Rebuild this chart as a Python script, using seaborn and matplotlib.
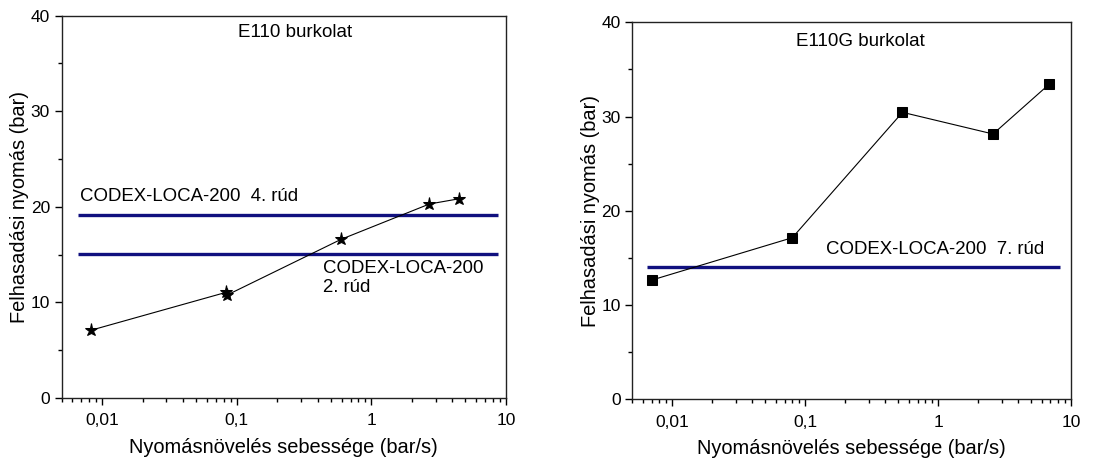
import matplotlib
matplotlib.use('Agg')
import matplotlib.pyplot as plt
import matplotlib.ticker as mticker
import seaborn as sns
import pandas as pd

# E110 burkolat (csillag)
e110_rate = [0.0083, 0.083, 0.084, 0.595, 2.70, 4.5]
e110_press = [7.1, 11.05, 10.75, 16.6, 20.3, 20.85]
e110_codex = [19.15, 15.05]
e110_codex_labels = ['CODEX-LOCA-200  4. rúd', 'CODEX-LOCA-200\n2. rúd']

# E110G burkolat (négyzet)
e110g_rate = [0.00703, 0.080, 0.539, 2.59, 6.87]
e110g_press = [12.66, 17.15, 30.45, 28.15, 33.45]
e110g_codex = [14.05]
e110g_codex_labels = ['CODEX-LOCA-200  7. rúd']

titles = ['E110 burkolat', 'E110G burkolat']
xlabel = 'Nyomásnövelés sebessége (bar/s)'
ylabel = 'Felhasadási nyomás (bar)'

sns.set_style('white')
plt.rcParams['font.family'] = ['Liberation Sans', 'DejaVu Sans']
plt.rcParams['text.color'] = 'black'
plt.rcParams['axes.labelcolor'] = 'black'
plt.rcParams['xtick.color'] = 'black'
plt.rcParams['ytick.color'] = 'black'

fig = plt.figure(figsize=(11.18, 4.59), dpi=100)
ax1 = fig.add_axes([0.0552, 0.1329, 0.3974, 0.8329])
ax2 = fig.add_axes([0.5656, 0.1300, 0.3924, 0.8214])

navy = '#10107f'


def comma_fmt(v, pos):
    s = '%g' % v
    return s.replace('.', ',')


def style_axes(ax):
    ax.set_xscale('log')
    ax.set_xlim(0.005, 10)
    ax.set_ylim(0, 40)
    ax.xaxis.set_major_locator(mticker.FixedLocator([0.01, 0.1, 1, 10]))
    ax.xaxis.set_major_formatter(mticker.FuncFormatter(comma_fmt))
    ax.xaxis.set_minor_locator(mticker.LogLocator(base=10, subs=range(2, 10), numticks=20))
    ax.xaxis.set_minor_formatter(mticker.NullFormatter())
    ax.yaxis.set_major_locator(mticker.MultipleLocator(10))
    ax.yaxis.set_minor_locator(mticker.MultipleLocator(5))
    ax.tick_params(axis='both', which='major', direction='out', length=5, width=1,
                   labelsize=12.5, bottom=True, left=True, top=False, right=False)
    ax.tick_params(axis='x', which='major', pad=6)
    ax.tick_params(axis='both', which='minor', direction='out', length=3, width=1,
                   bottom=True, left=True, top=False, right=False)
    for sp in ax.spines.values():
        sp.set_color('#222222')
        sp.set_linewidth(1)
    ax.set_xlabel(xlabel, fontsize=14.4, labelpad=7)
    ax.set_ylabel(ylabel, fontsize=14.4, labelpad=1)


# left panel
df1 = pd.DataFrame({'rate': e110_rate, 'press': e110_press})
ax1.hlines(e110_codex, 0.00664, 8.69, color=navy, lw=2.4, zorder=1)
sns.lineplot(data=df1, x='rate', y='press', ax=ax1, color='black', lw=0.8,
             marker='*', markersize=9.5, markeredgecolor='black', sort=False, zorder=3)
style_axes(ax1)
ax1.text(0.272, 38.2, titles[0], ha='center', va='center', fontsize=13.5)
ax1.text(0.0068, 21.1, e110_codex_labels[0], ha='left', va='center', fontsize=13.4)
ax1.text(0.437, 14.4, e110_codex_labels[1], ha='left', va='top', fontsize=13.4,
         linespacing=1.1)

# right panel
df2 = pd.DataFrame({'rate': e110g_rate, 'press': e110g_press})
ax2.hlines(e110g_codex, 0.00645, 8.2, color=navy, lw=2.4, zorder=1)
sns.lineplot(data=df2, x='rate', y='press', ax=ax2, color='black', lw=0.8,
             marker='s', markersize=7, markeredgecolor='black', sort=False, zorder=3)
style_axes(ax2)
ax2.text(0.259, 38.0, titles[1], ha='center', va='center', fontsize=13.5)
ax2.text(0.143, 15.9, e110g_codex_labels[0], ha='left', va='center', fontsize=13.4)

fig.savefig('out.png', dpi=100)
